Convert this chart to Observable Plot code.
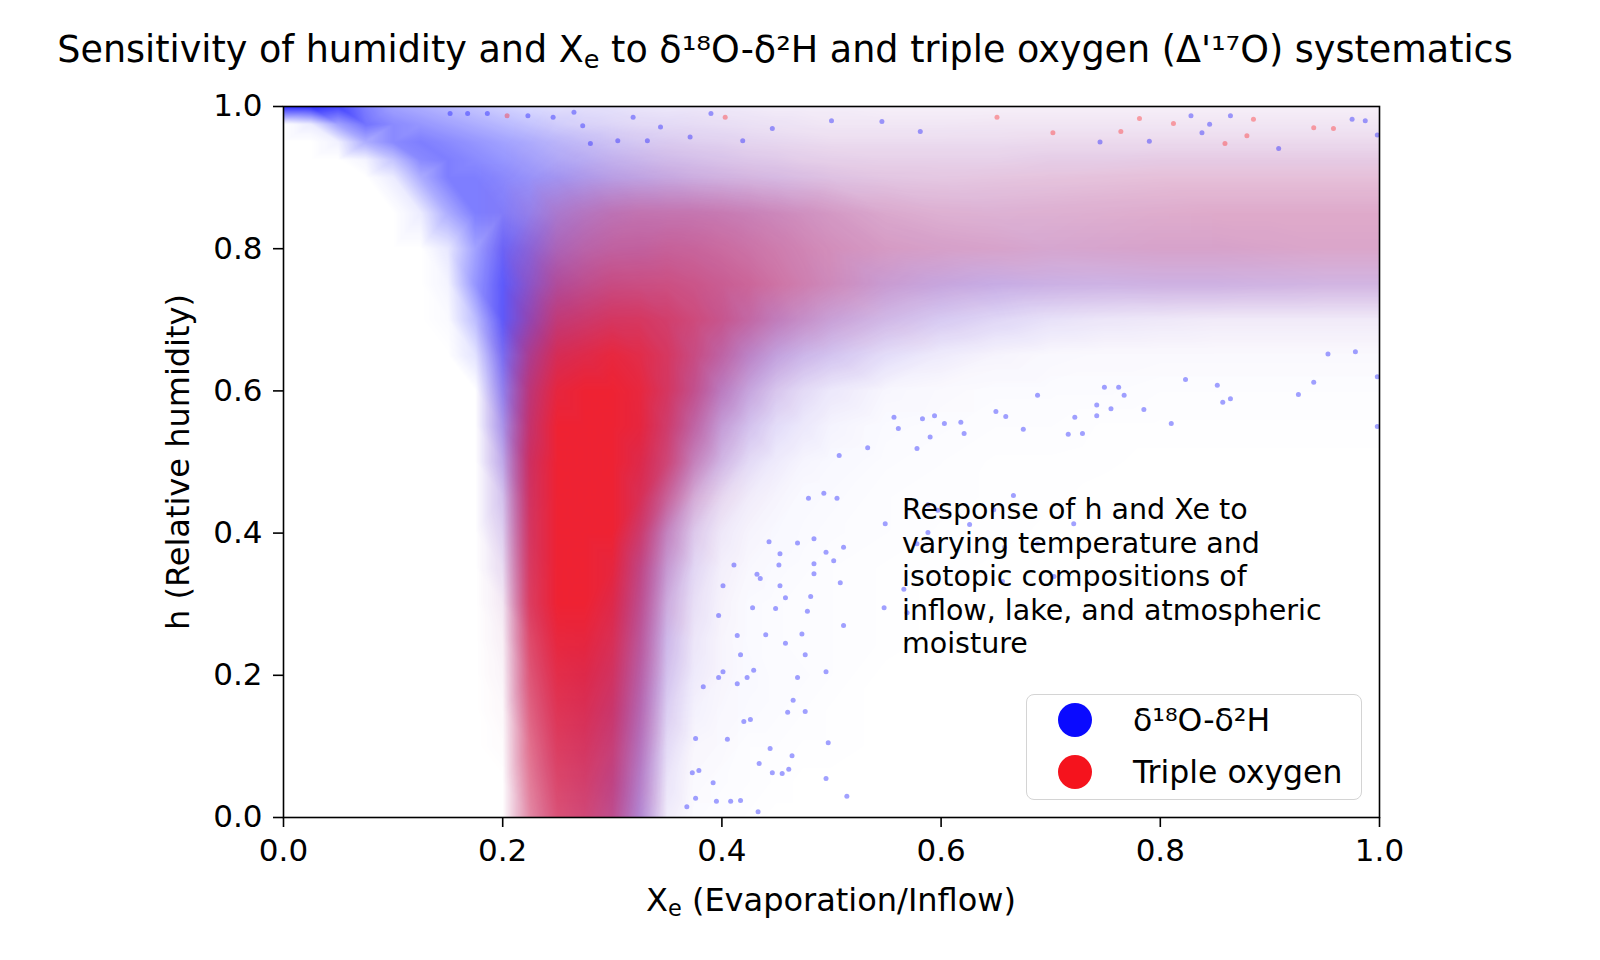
<!DOCTYPE html>
<html><head><meta charset="utf-8">
<script src="https://cdn.jsdelivr.net/npm/d3@7"></script>
<script src="https://cdn.jsdelivr.net/npm/@observablehq/plot@0.6"></script>
<style>
body{margin:0;background:#fff;}
#chart{position:relative;width:1600px;height:960px;font-family:"DejaVu Sans",sans-serif;color:#000;overflow:hidden;background:#fff;}
.abs{position:absolute;white-space:nowrap;}
.sub{font-size:0.7em;position:relative;top:0.22em;}
</style></head><body>
<div id="chart"></div>
<script>
// ---- data ----
const titleText = "Sensitivity of humidity and X<span class='sub'>e</span> to δ¹⁸O-δ²H and triple oxygen (Δ'¹⁷O) systematics";
const xLabel = "X<span class='sub'>e</span> (Evaporation/Inflow)";
const yLabel = "h (Relative humidity)";
const seriesNames = ["δ¹⁸O-δ²H", "Triple oxygen"];
const noteLines = ["Response of h and Xe to", "varying temperature and", "isotopic compositions of", "inflow, lake, and atmospheric", "moisture"];
const xTicks = [0, 0.2, 0.4, 0.6, 0.8, 1.0];
const yTicks = [0, 0.2, 0.4, 0.6, 0.8, 1.0];

// density grid (estimated point density 0-10) : columns = Xe values, rows = h values
const xs = [0,0.025,0.05,0.075,0.1,0.125,0.15,0.175,0.2,0.225,0.25,0.275,0.3,0.325,0.35,0.375,0.4,0.425,0.45,0.475,0.5,0.55,0.6,0.65,0.7,0.75,0.8,0.85,0.9,0.95,1];
const hs = [0,0.05,0.1,0.15,0.2,0.25,0.3,0.35,0.4,0.45,0.5,0.55,0.6,0.65,0.7,0.75,0.8,0.85,0.9,0.925,0.95,0.975,1];

const blueRows = [
[0,0,0,0,0,0,0,0,0, 2,4,5,5.5,4,0.6,0.15,0.1,0.05,0,0,0, 0,0,0,0,0,0,0,0,0,0],
[0,0,0,0,0,0,0,0,0, 2.2,4.5,5.5,6,4.2,0.9,0.2,0.15,0.1,0.05,0,0, 0,0,0,0,0,0,0,0,0,0],
[0,0,0,0,0,0,0,0,0.05, 2.5,5,6,6,4.5,1.2,0.3,0.2,0.1,0.1,0.05,0.05, 0,0,0,0,0,0,0,0,0,0],
[0,0,0,0,0,0,0,0,0.1, 3,5.5,6.5,6.5,4.8,1.6,0.5,0.3,0.2,0.15,0.1,0.05, 0,0,0,0,0,0,0,0,0,0],
[0,0,0,0,0,0,0,0,0.2, 3.5,6,7,6.5,5,2,0.7,0.35,0.25,0.15,0.15,0.1, 0,0,0,0,0,0,0,0,0,0],
[0,0,0,0,0,0,0,0,0.3, 4,6.5,7,6.5,5.2,2.3,0.8,0.35,0.2,0.15,0.1,0.1, 0.05,0,0,0,0,0,0,0,0,0],
[0,0,0,0,0,0,0,0,0.5, 5,7,7,7,5.5,2.5,1,0.4,0.2,0.15,0.1,0.1, 0.05,0,0,0,0,0,0,0,0,0],
[0,0,0,0,0,0,0,0,1, 5.5,7,7,7,5.8,3,1.3,0.5,0.3,0.2,0.15,0.1, 0.05,0.05,0,0,0,0,0,0,0,0],
[0,0,0,0,0,0,0,0,1.5, 6,7,7,7,6,3.5,1.6,0.7,0.4,0.3,0.2,0.15, 0.1,0.05,0.05,0,0,0,0,0,0,0],
[0,0,0,0,0,0,0,0,2, 6.5,7,7,7,6.5,4.2,2.2,1.1,0.6,0.4,0.25,0.2, 0.1,0.08,0.05,0.03,0,0,0,0,0,0],
[0,0,0,0,0,0,0,0,3, 7,7,7,7,7,5.2,3.5,2.2,1.2,0.7,0.4,0.3, 0.15,0.1,0.05,0.05,0.03,0,0,0,0,0],
[0,0,0,0,0,0,0,0,4, 7,7,7,7,7,5.8,4.5,3,2,1.2,0.8,0.45, 0.2,0.15,0.1,0.1,0.05,0.05,0.05,0.05,0.05,0.05],
[0,0,0,0,0,0,0,0,5, 7,7,7,7,6.5,6,5.2,4,2.8,1.8,1.2,0.8, 0.35,0.2,0.15,0.15,0.15,0.1,0.1,0.1,0.1,0.1],
[0,0,0,0,0,0,0,1.2,6, 7,7,6.8,6.5,6.2,5.8,5.2,4.6,3.8,3,2.4,2, 1.2,0.7,0.4,0.25,0.2,0.2,0.2,0.2,0.2,0.2],
[0,0,0,0,0,0,0.2,2.8,7, 7,6.5,6.2,6,5.8,5.5,5,4.8,4.3,3.8,3.2,2.8, 2.2,1.8,1.4,1,0.8,0.7,0.6,0.6,0.6,0.6],
[0,0,0,0,0,0,0.5,4.5,7, 6.5,6,5.5,5.2,5,4.8,4.6,4.4,4,3.5,3.2,3, 2.9,2.8,2.7,2.5,2.4,2.4,2.4,2.3,2.2,2.2],
[0,0,0,0,0,0,1,4,6.5, 6,5.2,4.8,4.6,4.6,4.4,4.2,3.9,3.6,3.3,3,2.7, 2.4,2.3,2.2,2.2,2.2,2.2,2.2,2.1,2,2],
[0,0,0,0,0,0.8,3.5,5.5,5.5, 5,4.6,4.4,4.2,4,3.9,3.8,3.6,3.4,3.1,2.8,2.5, 2,1.8,1.8,1.8,1.8,1.8,1.8,1.8,1.8,1.8],
[0,0,0,0,0.8,3.5,5.5,5.5,5, 4.5,4.2,3.8,3.4,3.1,2.8,2.5,2.3,2.1,2,1.8,1.6, 1.4,1.3,1.3,1.3,1.3,1.3,1.3,1.3,1.3,1.3],
[0,0,0,0.5,2.5,5,5.5,5,4.5, 4,3.5,3.2,2.8,2.5,2.2,2,1.8,1.6,1.5,1.3,1.2, 1.1,1.1,1.1,1.2,1.2,1.2,1.2,1.2,1.2,1.2],
[0,0,0.6,3.5,5,5.5,5,4.5,4, 3.5,3,2.6,2.2,1.9,1.7,1.5,1.4,1.2,1.1,1,0.9, 0.9,0.9,0.9,0.9,0.9,0.9,0.9,0.9,0.9,0.9],
[0,0.8,4,6,5,4.5,4,3.5,3, 2.5,2,1.7,1.5,1.3,1.2,1.1,1,0.9,0.8,0.7,0.6, 0.6,0.6,0.6,0.6,0.6,0.6,0.6,0.6,0.6,0.6],
[9,9,8,5.5,4,3.5,3,2.5,2, 1.6,1.3,1.2,1.1,0.9,0.8,0.8,0.7,0.6,0.5,0.5,0.5, 0.4,0.4,0.4,0.4,0.4,0.4,0.4,0.4,0.4,0.4]
];

const redRows = [
[0,0,0,0,0,0,0,0,0, 4,6,6,5,2,0.2,0,0,0,0,0,0, 0,0,0,0,0,0,0,0,0,0],
[0,0,0,0,0,0,0,0,0, 4.5,6.5,6.5,5.5,2.5,0.3,0.05,0,0,0,0,0, 0,0,0,0,0,0,0,0,0,0],
[0,0,0,0,0,0,0,0,0.1, 5,7,7,6,3,0.4,0.1,0.05,0,0,0,0, 0,0,0,0,0,0,0,0,0,0],
[0,0,0,0,0,0,0,0,0.2, 5.5,7.5,7.5,6.5,3.5,0.6,0.1,0.05,0,0,0,0, 0,0,0,0,0,0,0,0,0,0],
[0,0,0,0,0,0,0,0,0.3, 6,8,8,7,4,0.8,0.2,0.1,0,0,0,0, 0,0,0,0,0,0,0,0,0,0],
[0,0,0,0,0,0,0,0,0.4, 6.5,8.5,8.5,7.5,4.5,1,0.3,0.1,0,0,0,0, 0,0,0,0,0,0,0,0,0,0],
[0,0,0,0,0,0,0,0,0.5, 7,9,9,8,5,1.5,0.4,0.15,0,0,0,0, 0,0,0,0,0,0,0,0,0,0],
[0,0,0,0,0,0,0,0,0.6, 7,9,9,8.5,5.5,2,0.5,0.2,0.05,0,0,0, 0,0,0,0,0,0,0,0,0,0],
[0,0,0,0,0,0,0,0,0.7, 7,9,9,9,6.5,2.8,0.9,0.3,0.1,0,0,0, 0,0,0,0,0,0,0,0,0,0],
[0,0,0,0,0,0,0,0,0.8, 7,9,9,9,7.5,4.5,1.8,0.7,0.25,0.08,0,0, 0,0,0,0,0,0,0,0,0,0],
[0,0,0,0,0,0,0,0,1, 7,9,9,9,8,6,3,1.2,0.4,0.15,0.05,0, 0,0,0,0,0,0,0,0,0,0],
[0,0,0,0,0,0,0,0,1, 6.5,9,9,9,8.5,6.5,4,1.8,0.8,0.3,0.15,0.05, 0,0,0,0,0,0,0,0,0,0],
[0,0,0,0,0,0,0,0,0.8, 6,8.5,9,9,8.5,7,5,2.8,1.5,0.8,0.4,0.2, 0.05,0.05,0,0,0,0,0,0,0,0],
[0,0,0,0,0,0,0,0,0.6, 5,7.5,8,8.5,8,7,5.5,4,2.5,1.5,1,0.7, 0.3,0.15,0.1,0.05,0.05,0.05,0.05,0.05,0.05,0.05],
[0,0,0,0,0,0,0,0,0.3, 3.5,6,6.5,7,7,6.5,5.8,5,4,3,2.4,1.8, 1.1,0.6,0.4,0.3,0.3,0.3,0.3,0.3,0.3,0.3],
[0,0,0,0,0,0,0,0,0.2, 2.5,4.5,5,5.5,5.5,5.5,5.2,4.8,4.5,4,3.5,3, 2,1.5,1.2,1.2,1.2,1.3,1.3,1.3,1.3,1.3],
[0,0,0,0,0,0,0,0,0.4, 1.8,3.2,3.8,4.2,4.3,4.5,4.4,4.2,3.9,3.6,3.3,3, 2.6,2.4,2.3,2.1,2.2,2.3,2.3,2.3,2.3,2.3],
[0,0,0,0,0,0,0,0,0.3, 1,2.2,2.8,3.3,3.5,3.5,3.5,3.4,3.2,3,2.8,2.6, 2.2,2,1.9,2,2.1,2.2,2.3,2.3,2.3,2.3],
[0,0,0,0,0,0,0,0,0.1, 0.3,0.7,1,1.2,1.3,1.4,1.4,1.4,1.4,1.3,1.3,1.3, 1.3,1.3,1.4,1.5,1.6,1.7,1.7,1.7,1.7,1.7],
[0,0,0,0,0,0,0,0,0, 0.2,0.4,0.6,0.8,0.9,1,1,1,1,1,1,1, 1,1,1,1.1,1.1,1.2,1.2,1.2,1.2,1.2],
[0,0,0,0,0,0,0,0,0, 0.1,0.3,0.4,0.5,0.6,0.7,0.7,0.7,0.7,0.7,0.7,0.7, 0.7,0.7,0.7,0.8,0.8,0.8,0.8,0.8,0.8,0.8],
[0,0,0,0,0,0,0,0,0, 0.05,0.2,0.3,0.35,0.4,0.4,0.45,0.45,0.45,0.45,0.45,0.45, 0.45,0.45,0.5,0.5,0.5,0.5,0.5,0.5,0.5,0.5],
[0,0,0,0,0,0,0,0,0, 0,0.1,0.2,0.2,0.25,0.25,0.3,0.3,0.3,0.3,0.3,0.3, 0.3,0.3,0.3,0.3,0.3,0.3,0.3,0.3,0.3,0.3]
];

// isolated points read from the sparse parts of the cloud [Xe, h]
const blueSparse = [
[0.493,0.456],[0.505,0.449],[0.479,0.449],[0.443,0.388],[0.469,0.386],[0.484,0.392],[0.495,0.373],[0.511,0.38],[0.453,0.371],[0.452,0.355],
[0.411,0.355],[0.432,0.342],[0.435,0.336],[0.453,0.326],[0.481,0.311],[0.458,0.309],[0.508,0.33],[0.484,0.343],[0.401,0.326],[0.428,0.295],
[0.449,0.294],[0.478,0.29],[0.397,0.284],[0.414,0.256],[0.44,0.257],[0.473,0.258],[0.458,0.245],[0.476,0.229],[0.417,0.229],[0.429,0.207],
[0.423,0.197],[0.414,0.188],[0.401,0.205],[0.397,0.197],[0.495,0.205],[0.469,0.197],[0.383,0.184],[0.465,0.165],[0.46,0.148],[0.476,0.149],
[0.42,0.135],[0.426,0.138],[0.497,0.105],[0.444,0.097],[0.405,0.11],[0.376,0.111],[0.464,0.087],[0.434,0.076],[0.446,0.063],[0.455,0.062],
[0.461,0.068],[0.379,0.066],[0.373,0.063],[0.392,0.049],[0.376,0.027],[0.395,0.023],[0.408,0.023],[0.417,0.024],[0.433,0.008],[0.514,0.03],
[0.368,0.015],[0.511,0.27],[0.484,0.357],[0.502,0.361],[0.495,0.055],
[0.588,0.44],[0.597,0.432],[0.648,0.433],[0.666,0.453],[0.588,0.401],[0.578,0.385],[0.626,0.412],[0.658,0.38],[0.688,0.385],[0.703,0.339],
[0.656,0.332],[0.721,0.413],[0.566,0.321],[0.549,0.413],[0.548,0.295],[0.569,0.288],
[0.688,0.594],[0.749,0.605],[0.762,0.605],[0.767,0.594],[0.742,0.58],[0.755,0.575],[0.785,0.574],[0.81,0.554],[0.823,0.616],[0.852,0.608],
[0.864,0.589],[0.857,0.584],[0.926,0.595],[0.94,0.612],[0.998,0.62],[0.978,0.655],[0.953,0.652],[0.722,0.563],[0.742,0.565],[0.729,0.54],
[0.716,0.539],[0.675,0.546],[0.659,0.564],[0.65,0.571],[0.621,0.54],[0.59,0.535],[0.578,0.519],[0.533,0.52],[0.507,0.509],[0.594,0.565],
[0.603,0.554],[0.583,0.561],[0.561,0.547],[0.557,0.563],[0.618,0.556],[0.998,0.55],
[0.5,0.98],[0.546,0.979],[0.581,0.965],[0.828,0.987],[0.864,0.987],[0.845,0.975],[0.975,0.982],[0.987,0.98],[0.79,0.951],[0.745,0.95],
[0.838,0.963],[0.908,0.941],[0.998,0.96],[0.265,0.992],[0.223,0.987],[0.319,0.985],[0.39,0.99],[0.446,0.969],[0.344,0.971],[0.371,0.957],
[0.273,0.973],[0.246,0.985],[0.28,0.948],[0.305,0.952],[0.332,0.952],[0.186,0.99],[0.168,0.99],[0.152,0.99],[0.419,0.952]
];
const redSparse = [
[0.651,0.985],[0.702,0.963],[0.764,0.965],[0.781,0.983],[0.885,0.982],[0.812,0.976],[0.958,0.969],[0.859,0.948],[0.879,0.959],[0.403,0.985],
[0.204,0.987],[0.94,0.97]
];

// ---- drawing ----
const BLUE = "#1414ff", RED = "#ff1c1c";
const cells = rows => hs.flatMap((h, i) => xs.map((x, j) => ({x, y: h, d: rows[i][j]})));
const fmt = d3.format(".1f");

const plot = Plot.plot({
  width: 1600, height: 960,
  marginLeft: 283, marginRight: 221, marginTop: 106, marginBottom: 143,
  x: {domain: [0, 1]},
  y: {domain: [0, 1]},
  opacity: {domain: [0, 10], range: [0, 1]},
  style: {fontFamily: "DejaVu Sans", fontSize: "31px", color: "#000", background: "transparent", overflow: "visible"},
  marks: [
    Plot.raster(cells(blueRows), {x: "x", y: "y", fill: BLUE, fillOpacity: "d", interpolate: "barycentric"}),
    Plot.raster(cells(redRows), {x: "x", y: "y", fill: RED, fillOpacity: "d", interpolate: "barycentric"}),
    Plot.dot(blueSparse, {x: d => d[0], y: d => d[1], r: 2.5, fill: BLUE, fillOpacity: 0.4}),
    Plot.dot(redSparse, {x: d => d[0], y: d => d[1], r: 2.5, fill: RED, fillOpacity: 0.38}),
    Plot.frame({stroke: "#000", strokeWidth: 1.6}),
    Plot.axisX({ticks: xTicks, tickFormat: fmt, tickSize: 10, tickPadding: 11, label: null, fontSize: 31, strokeWidth: 1.6}),
    Plot.axisY({ticks: yTicks, tickFormat: fmt, tickSize: 10, tickPadding: 11, label: null, fontSize: 31, strokeWidth: 1.6})
  ]
});

const chart = document.getElementById("chart");
plot.style.position = "absolute";
plot.style.left = "0px";
plot.style.top = "0px";
chart.appendChild(plot);

function addDiv(html, css) {
  const el = document.createElement("div");
  el.className = "abs";
  el.innerHTML = html;
  Object.assign(el.style, css);
  chart.appendChild(el);
  return el;
}
// title
addDiv(titleText, {left: "0px", width: "1570px", top: "30px", textAlign: "center", fontSize: "36.5px", lineHeight: "40px"});
// axis labels
addDiv(xLabel, {left: "431px", width: "800px", top: "882px", textAlign: "center", fontSize: "32px", lineHeight: "36px"});
addDiv(yLabel, {left: "-122px", width: "600px", top: "444px", textAlign: "center", fontSize: "32px", lineHeight: "36px", transform: "rotate(-90deg)", transformOrigin: "300px 18px"});
// annotation
addDiv(noteLines.join("<br>"), {left: "902px", top: "493px", fontSize: "28.5px", lineHeight: "33.5px"});
// legend
addDiv("", {left: "1026px", top: "694px", width: "336px", height: "106px", boxSizing: "border-box", border: "1.6px solid #d4d4d4", borderRadius: "8px", background: "rgba(255,255,255,0.8)"});
const legendColors = ["#0a0aff", "#f5131d"];
seriesNames.forEach((name, i) => {
  const cy = 720 + i * 52;
  addDiv("", {left: (1075 - 17) + "px", top: (cy - 17) + "px", width: "34px", height: "34px", borderRadius: "50%", background: legendColors[i]});
  addDiv(name, {left: "1133px", top: (cy - 19) + "px", fontSize: "31.5px", lineHeight: "38px"});
});
</script></body></html>
